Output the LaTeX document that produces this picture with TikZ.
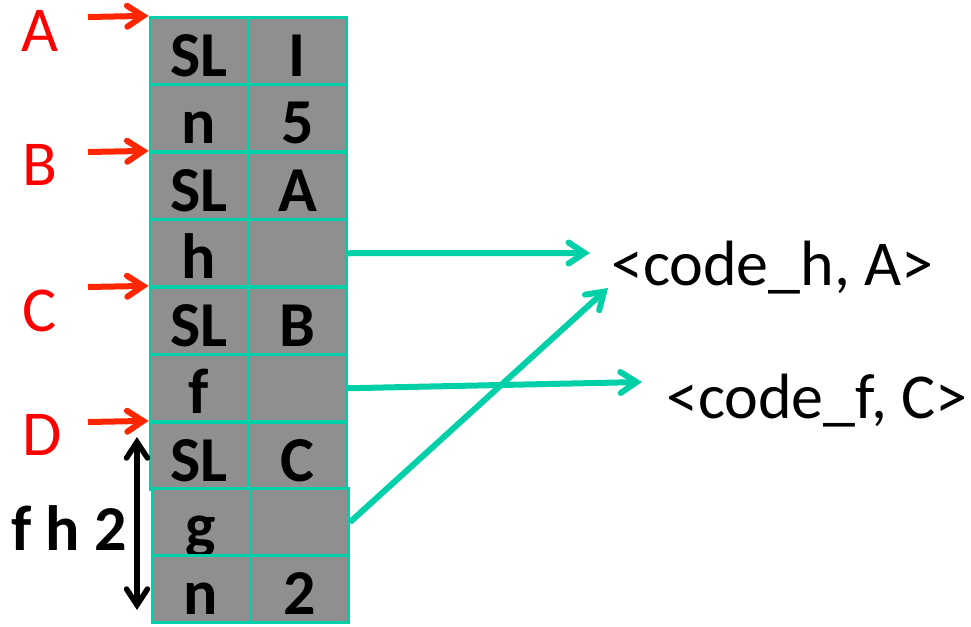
\documentclass[tikz,border=0pt]{standalone}
\usepackage{fontspec}
\setmainfont{Carlito}
\usetikzlibrary{arrows.meta}
\definecolor{cellgray}{RGB}{143,143,143}
\definecolor{gridteal}{RGB}{0,208,168}
\definecolor{ptrred}{RGB}{255,38,0}
\definecolor{lblred}{RGB}{255,0,0}
\tikzset{
  barb/.style={-{Straight Barb[length=16pt,width=21pt,line cap=round]}},
  cell/.style={draw=gridteal, line width=2.8pt, fill=cellgray, inner sep=0pt,
    minimum width=98pt, text height=59pt, text depth=8pt,
    font=\fontsize{64}{64}\selectfont\bfseries},
  ptrlabel/.style={anchor=base, inner sep=0pt, text=lblred,
    font=\fontsize{64}{64}\selectfont},
  ptrarrow/.style={draw=ptrred, line width=6pt, barb},
  spanarrow/.style={draw=black, line width=5.5pt,
    {Straight Barb[length=16pt,width=21pt,line cap=round]}-{Straight Barb[length=16pt,width=21pt,line cap=round]}},
  codearrow/.style={draw=gridteal, line width=6pt, barb},
  codetext/.style={anchor=base west, inner sep=0pt,
    font=\fontsize{64}{64}\selectfont},
}
\begin{document}
\begin{tikzpicture}[x=1pt,y=-1pt]
\useasboundingbox (0,0) rectangle (971,626);

% upper block of cells
\node[cell] (r1a) at (199,50.75)  {SL}; \node[cell] (r1b) at (297.5,50.75)  {I};
\node[cell] (r2a) at (199,118.25) {n};  \node[cell] (r2b) at (297.5,118.25) {5};
\node[cell] (r3a) at (199,185.75) {SL}; \node[cell] (r3b) at (297.5,185.75) {A};
\node[cell] (r4a) at (199,253.25) {h};  \node[cell] (r4b) at (297.5,253.25) {};
\node[cell] (r5a) at (199,320.75) {SL}; \node[cell] (r5b) at (297.5,320.75) {B};
\node[cell] (r6a) at (199,388.25) {f};  \node[cell] (r6b) at (297.5,388.25) {};
\node[cell] (r7a) at (199,455.75) {SL}; \node[cell] (r7b) at (297.5,455.75) {C};
% lower block, slightly offset
\node[cell] (r8a) at (201,522.25) {g};  \node[cell] (r8b) at (299.5,522.25) {};
\node[cell] (r9a) at (201,589.25) {n};  \node[cell] (r9b) at (299.5,589.25) {2};

% pointer labels and arrows
\node[ptrlabel] (lA) at (40,52)  {A};
\node[ptrlabel] (lB) at (40,185) {B};
\node[ptrlabel] (lC) at (40,331) {C};
\node[ptrlabel] (lD) at (42,455) {D};
\coordinate (pA) at (88,17);
\coordinate (pB) at (88,152);
\coordinate (pC) at (88,287);
\coordinate (pD) at (88,422);
\draw[ptrarrow] (pA) -- (r1a.north west);
\draw[ptrarrow] (pB) -- (r3a.north west);
\draw[ptrarrow] (pC) -- (r5a.north west);
\draw[ptrarrow] (pD) -- (r7a.north west);

% span marker
\coordinate (sTop) at (137,437);
\coordinate (sBot) at (137,610);
\draw[spanarrow] (sTop) -- (sBot);
\node[anchor=base, inner sep=0pt, font=\fontsize{64}{64}\selectfont\bfseries] (span) at (69,550) {f h 2};

% code entries
\node[codetext] (hcode) at (611,285) {<code\_h, A>};
\node[codetext] (fcode) at (666,418) {<code\_f, C>};
\coordinate (hTip) at (590,253);
\coordinate (fTip) at (642,382);
\coordinate (gTip) at (608,288);
\draw[codearrow] (r4b.east) -- (hTip);
\draw[codearrow] (r6b.east) -- (fTip);
\draw[codearrow] (r8b.east) -- (gTip);
\end{tikzpicture}
\end{document}
